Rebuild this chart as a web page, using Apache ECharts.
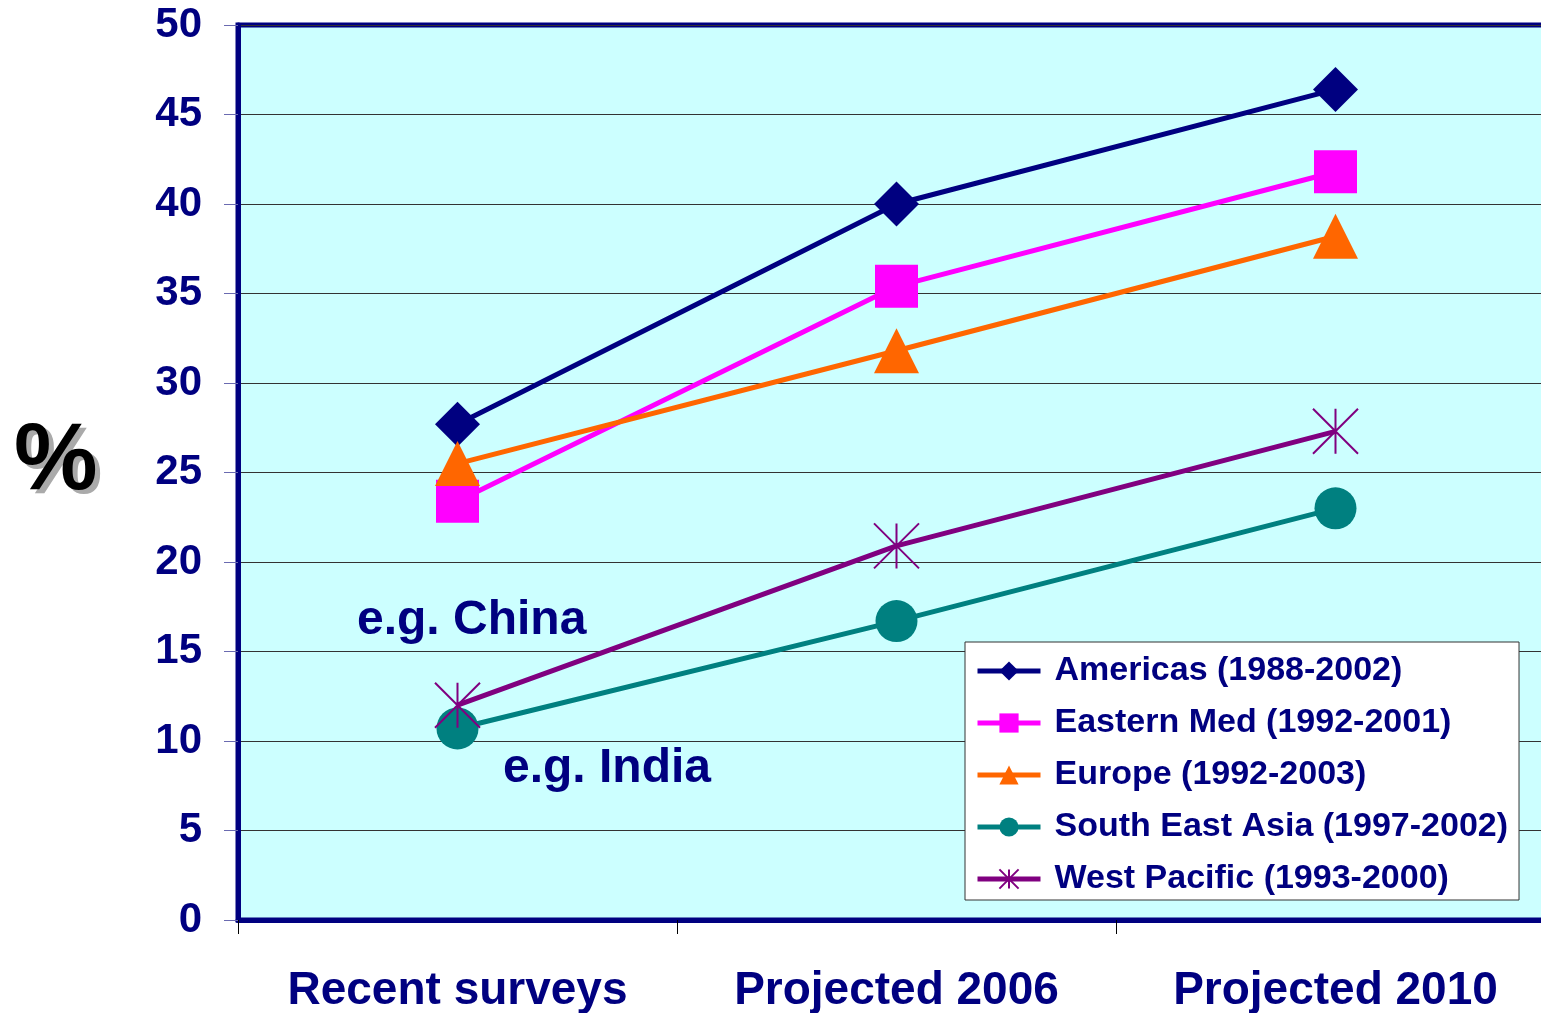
<!DOCTYPE html>
<html>
<head>
<meta charset="utf-8">
<script src="https://cdn.jsdelivr.net/npm/echarts@6/dist/echarts.min.js"></script>
<style>
  html, body { margin: 0; padding: 0; background: #fff; }
  #chart { width: 1541px; height: 1013px; }
</style>
</head>
<body>
<div id="chart"></div>
<script>
// 数据
const categories = ['Recent surveys', 'Projected 2006', 'Projected 2010']
const americas = [27.7, 40.0, 46.4]
const easternMed = [23.4, 35.4, 41.8]
const europe = [25.5, 31.8, 38.2]
const southEastAsia = [10.7, 16.7, 23.0]
const westPacific = [12.0, 20.9, 27.3]

const navy = '#000080'
const font = '"Liberation Sans", Arial, sans-serif'
const star = 'path://M0,0L10,10M10,0L0,10M5,0L5,10'

function makeSeries(name, data, color, symbol, size, extra) {
  return Object.assign({
    name,
    type: 'line',
    data,
    symbol,
    symbolSize: size,
    color,
    lineStyle: { color, width: 5 },
    itemStyle: { color },
    emphasis: { disabled: true },
    animation: false
  }, extra || {})
}

const chart = echarts.init(document.getElementById('chart'))
chart.setOption({
  backgroundColor: '#fff',
  textStyle: { fontFamily: font },
  grid: {
    left: 238, top: 25, width: 1317, height: 895,
    outerBoundsMode: 'none', containLabel: false,
    show: true, backgroundColor: '#CCFFFF',
    borderColor: navy, borderWidth: 5
  },
  legend: {
    orient: 'vertical',
    left: 965, top: 642,
    backgroundColor: '#fff',
    borderColor: '#333', borderWidth: 1,
    padding: [12, 11, 4, 10],
    itemWidth: 63, itemHeight: 24, itemGap: 18,
    lineStyle: { width: 5 },
    textStyle: { color: navy, fontWeight: 'bold', fontSize: 34, fontFamily: font, lineHeight: 34, padding: [0, 0, 0, 9] },
    data: ['Americas (1988-2002)', 'Eastern Med (1992-2001)', 'Europe (1992-2003)', 'South East Asia (1997-2002)', 'West Pacific (1993-2000)']
  },
  xAxis: {
    type: 'category',
    data: categories,
    axisLine: { lineStyle: { color: navy, width: 5 } },
    axisTick: { show: true, interval: 0, length: 14, lineStyle: { color: '#000', width: 1 } },
    axisLabel: { interval: 0, hideOverlap: false, color: navy, fontWeight: 'bold', fontSize: 46, fontFamily: font, margin: 48 },
    splitLine: { show: false }
  },
  yAxis: {
    type: 'value',
    min: 0, max: 50, interval: 5,
    axisLine: { show: true, lineStyle: { color: navy, width: 5 } },
    axisTick: { show: true, length: 14, lineStyle: { color: '#6a6ab0', width: 1 } },
    axisLabel: { color: navy, fontWeight: 'bold', fontSize: 42, fontFamily: font, margin: 36 },
    splitLine: { show: true, lineStyle: { color: '#333', width: 1 } }
  },
  graphic: [
    // % 阴影
    { type: 'text', left: 19, top: 420, style: { text: '%', fill: '#aaa', font: 'bold 94px ' + font } },
    { type: 'text', left: 14, top: 416, style: { text: '%', fill: '#000', font: 'bold 94px ' + font } },
    { type: 'text', left: 357, top: 597, style: { text: 'e.g. China', fill: navy, font: 'bold 48px ' + font } },
    { type: 'text', left: 503, top: 745, style: { text: 'e.g. India', fill: navy, font: 'bold 48px ' + font } }
  ],
  series: [
    makeSeries('Americas (1988-2002)', americas, navy, 'diamond', 45),
    makeSeries('Eastern Med (1992-2001)', easternMed, '#FF00FF', 'rect', 43),
    makeSeries('Europe (1992-2003)', europe, '#FF6600', 'triangle', 45),
    makeSeries('South East Asia (1997-2002)', southEastAsia, '#008080', 'circle', 42),
    makeSeries('West Pacific (1993-2000)', westPacific, '#800080', star, 45, {
      itemStyle: { color: 'none', borderColor: '#800080', borderWidth: 2 }
    })
  ]
})
</script>
</body>
</html>
